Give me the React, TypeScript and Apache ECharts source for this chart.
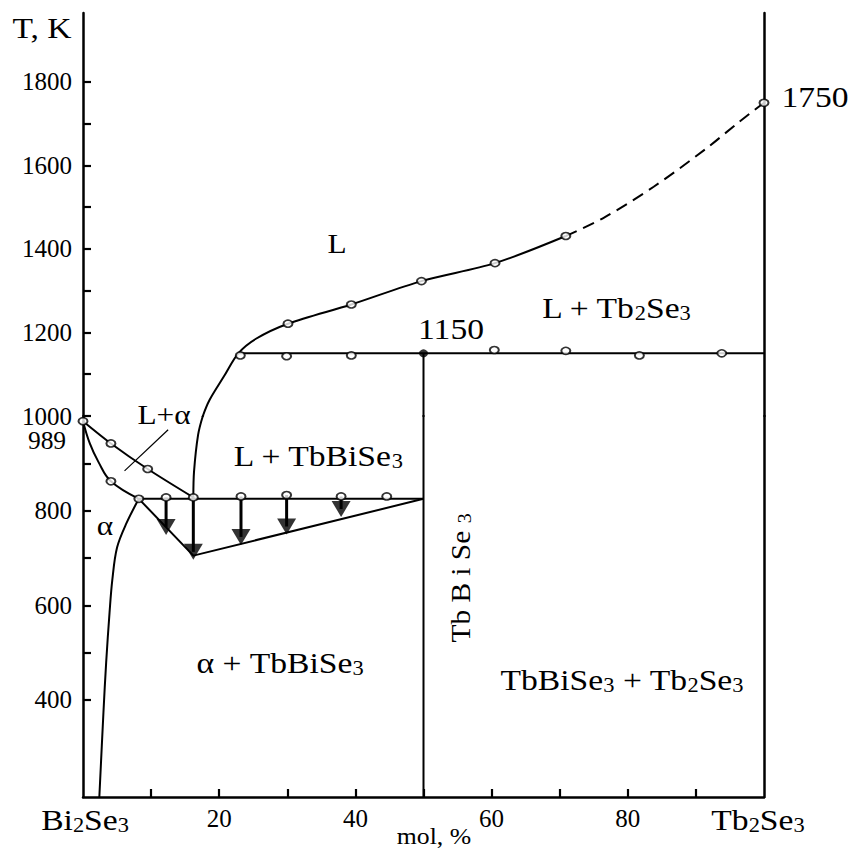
import React, { useEffect, useRef } from 'react';
import * as echarts from 'echarts';

// ---- data (x: mol % Tb2Se3, y: T in K) ----
const liquidusAlpha = [[0, 989], [4.1, 942], [9.5, 888], [16.2, 828]];
const solidusAlpha = [[0, 989], [1.0, 942], [2.3, 902], [4.1, 862], [8.2, 825]];
const eutecticV = [[8.2, 825], [16.2, 705], [50, 825]];
const eutecticLine = [[8.2, 825], [50, 825]];
const alphaSolvus = [[8.2, 825], [6.4, 774], [5.0, 722], [4.3, 653], [3.9, 585], [3.4, 479], [3.0, 373], [2.4, 195]];
const liquidusTb = [[16.2, 828], [16.3, 882], [16.9, 960], [17.6, 1000], [18.6, 1039], [20.7, 1095], [22.8, 1150], [25.4, 1185], [30.1, 1221], [39.4, 1267], [49.7, 1323], [60.5, 1366], [70.9, 1431]];
const liquidusTbDashed = [[70.9, 1431], [76.4, 1474], [83.8, 1549], [91.4, 1639], [96.4, 1705], [100, 1750]];
const peritecticLine = [[22.8, 1150], [100, 1150]];
const compoundLine = [[50, 1150], [50, 195]];
const leader = [[6.1, 884], [12.5, 971]];

const openDots = [
  [0, 989], [4.1, 942], [9.5, 888], [4.1, 862],
  [8.2, 825], [12.2, 828], [16.2, 828], [23.2, 830], [29.9, 833], [37.9, 830], [44.6, 830],
  [30.1, 1221], [39.4, 1267], [49.7, 1323], [60.5, 1366], [70.9, 1431], [100, 1750],
  [23.1, 1145], [29.9, 1143], [39.4, 1145], [60.4, 1158], [70.9, 1156], [81.7, 1145], [93.8, 1150],
];
const filledDots = [[50, 1150]];

const arrowX = [12.2, 16.2, 23.2, 29.9, 37.9];
const arrowStart = [828, 828, 830, 833, 830];
const arrowHeadTop = [783, 730, 763, 785, 820];
const arrowHeadTip = [748, 696, 726, 748, 787];

const xTicks = [10, 20, 30, 40, 50, 60, 70, 80, 90];
const xLabels = [20, 40, 60, 80];
const yTicksUpper = [1100, 1200, 1300, 1400, 1500, 1600, 1700, 1800];
const yLabelsUpper = [1200, 1400, 1600, 1800];
const yTicksLower = [400, 500, 600, 700, 800, 900, 1000];
const yLabelsLower = [400, 600, 800, 1000];

const FONT = '"Liberation Serif", "Times New Roman", serif';
const BLACK = '#000';

function both(spec: any) {
  return [0, 1].map((g) => ({ ...spec, xAxisIndex: g, yAxisIndex: g, clip: true, silent: true }));
}
function line(data: number[][], width = 2, extra: any = {}) {
  return both({
    type: 'line', data, symbol: 'none', smooth: extra.smooth ?? false,
    lineStyle: { color: BLACK, width, type: extra.dash ?? 'solid' }, z: 2,
  });
}

function txt(text: string, x: number, y: number, size: number, rotation = 0, sx = 1.12) {
  return {
    type: 'text', x, y, rotation, scaleX: sx, z: 100,
    style: {
      text: text.replace(/_(\d)/g, '{s|$1}'),
      fontSize: size, fontFamily: FONT, fill: BLACK, align: 'center', verticalAlign: 'middle',
      rich: { s: { fontSize: Math.round(size * 0.68), fontFamily: FONT, fill: BLACK, verticalAlign: 'bottom' } },
    },
  };
}

export default function App() {
  const ref = useRef<HTMLDivElement>(null);
  useEffect(() => {
    const chart = echarts.init(ref.current!, null, { renderer: 'svg' });
    const axisLine = { show: true, onZero: false, lineStyle: { color: BLACK, width: 2.5 } };
    const label = { color: BLACK, fontFamily: FONT, fontSize: 25, formatter: (v: number) => String(v) };
    const yBase = (g: number, min: number, max: number, ticks: number[], labels: number[]) => ({
      type: 'value', gridIndex: g, min, max, position: 'left', axisLine,
      axisTick: { show: true, inside: true, length: 8, lineStyle: { color: BLACK, width: 2.2 }, customValues: ticks },
      axisLabel: { ...label, margin: 11, customValues: labels },
      splitLine: { show: false },
    });
    const yRight = (g: number, min: number, max: number) => ({
      type: 'value', gridIndex: g, min, max, position: 'right', axisLine,
      axisTick: { show: false }, axisLabel: { show: false }, splitLine: { show: false },
    });

    const series: any[] = [
      ...line(liquidusAlpha, 2, { smooth: 0.3 }),
      ...line(solidusAlpha, 2, { smooth: 0.4 }),
      ...line(eutecticV, 2),
      ...line(eutecticLine, 2),
      ...line(alphaSolvus, 2, { smooth: 0.35 }),
      ...line(liquidusTb, 2, { smooth: 0.3 }),
      ...line(liquidusTbDashed, 2, { smooth: 0.3, dash: [12, 7] }),
      ...line(peritecticLine, 2),
      ...line(compoundLine, 2),
      ...line(leader, 1.2),
    ];
    arrowX.forEach((x, i) => {
      series.push(...line([[x, arrowStart[i]], [x, (arrowHeadTop[i] + arrowHeadTip[i]) / 2]], 3));
    });
    series.push(...both({
      type: 'scatter', data: arrowX.map((x, i) => [x, (arrowHeadTop[i] + arrowHeadTip[i]) / 2]),
      symbol: 'triangle', symbolRotate: 180, symbolSize: [19, 16], itemStyle: { color: BLACK }, z: 4,
    }));
    series.push(...both({
      type: 'scatter', data: openDots, symbol: 'circle', symbolSize: [9, 7],
      itemStyle: { color: '#fff', borderColor: BLACK, borderWidth: 1.8 }, z: 5,
    }));
    series.push(...both({
      type: 'scatter', data: filledDots, symbol: 'circle', symbolSize: [9, 8],
      itemStyle: { color: BLACK }, z: 5,
    }));

    chart.setOption({
      animation: false,
      backgroundColor: '#fff',
      grid: [
        { left: 83, right: 88, top: 13, height: 403 },
        { left: 83, right: 88, top: 416, height: 381 },
      ],
      xAxis: [
        { type: 'value', gridIndex: 0, min: 0, max: 100, show: false },
        {
          type: 'value', gridIndex: 1, min: 0, max: 100, axisLine,
          axisTick: { show: true, inside: true, length: 8, lineStyle: { color: BLACK, width: 2.2 }, customValues: xTicks },
          axisLabel: { ...label, margin: 9, customValues: xLabels },
          splitLine: { show: false },
        },
      ],
      yAxis: [
        yBase(0, 1000, 1965, yTicksUpper, yLabelsUpper),
        yBase(1, 195, 1000, yTicksLower, yLabelsLower),
        yRight(0, 1000, 1965),
        yRight(1, 195, 1000),
      ],
      series,
      graphic: [
        txt('T, K', 42, 28, 30),
        txt('989', 47, 440, 25, 0, 1.02),
        txt('1150', 451, 329, 30),
        txt('1750', 815, 97, 30),
        txt('L', 337, 244, 28),
        txt('L + Tb_2Se_3', 616, 308, 30),
        txt('L+α', 164, 415, 28),
        txt('L + TbBiSe_3', 318, 456, 30),
        txt('α', 105, 526, 28),
        txt('α + TbBiSe_3', 280, 663, 30),
        txt('TbBiSe_3 + Tb_2Se_3', 622, 680, 30),
        txt('Tb B i Se _3', 460, 578, 28, Math.PI / 2, 1.05),
        txt('Bi_2Se_3', 85, 820, 30),
        txt('Tb_2Se_3', 758, 820, 30),
        txt('mol, %', 434, 836, 23),
      ],
    });
    return () => chart.dispose();
  }, []);
  return <div ref={ref} style={{ position: 'absolute', left: 0, top: 0, width: 852, height: 852, background: '#fff' }} />;
}
